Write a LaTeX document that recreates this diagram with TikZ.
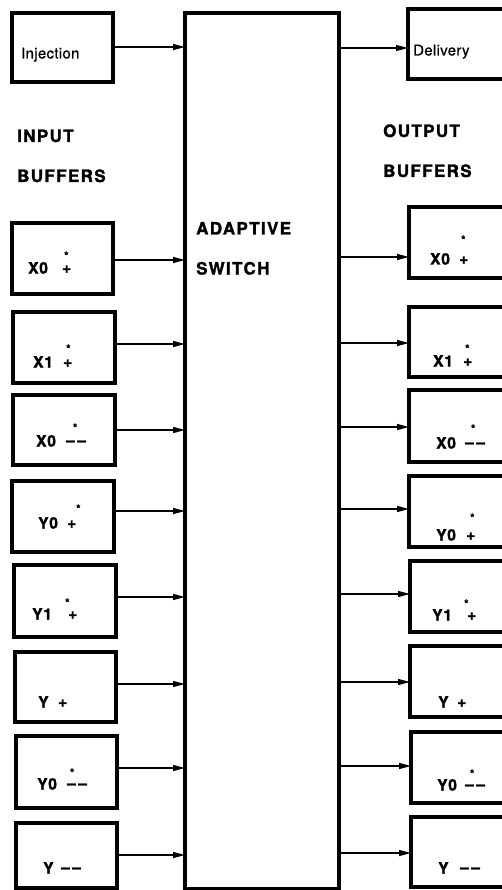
\documentclass[tikz,border=0pt]{standalone}
\usepackage{fontspec}
\setmainfont{TeX Gyre Heros}
\newfontfamily\headf{TeX Gyre Heros}[LetterSpace=8, BoldFeatures={FakeBold=1.6}]
\newfontfamily\labf{TeX Gyre Heros}[LetterSpace=5, BoldFeatures={FakeBold=1.6}]
\newfontfamily\regf{TeX Gyre Heros}[LetterSpace=2, FakeBold=0.6]
\usetikzlibrary{arrows.meta}
\newcommand\starlbl[5]{\makebox[#1][l]{#2}\makebox[0pt][l]{\kern#3\raisebox{#4}{\fontsize{11}{11}\selectfont *}}#5}
\newcommand\plainlbl[3]{\makebox[#1][l]{#2}#3}
\newcommand\pl{\raisebox{0.5pt}{+}}
\newcommand\dd{\raisebox{1pt}{\textendash\kern2.5pt\textendash}}
\begin{document}
\begin{tikzpicture}[x=1pt,y=-1pt,
  box/.style={draw, line width=3.2pt, inner sep=0pt, outer sep=0pt, anchor=north west},
  arr/.style={line width=1.4pt, -{Triangle[length=12pt,width=6pt]}},
  lab/.style={anchor=base west, inner sep=0pt, font={\labf\bfseries\fontsize{15.5}{15.5}\selectfont}},
  head/.style={anchor=base west, inner sep=0pt, font={\headf\bfseries\fontsize{17}{17}\selectfont}},
  reg/.style={anchor=base west, inner sep=0pt, font={\regf\fontsize{15}{15}\selectfont}}]
\path[use as bounding box, clip] (0,0) rectangle (502,890);

% switch
\node[box, minimum width=154pt, minimum height=876pt] (sw) at (185,13) {};

% left boxes
\node[box, minimum width=101pt, minimum height=69pt] (inj) at (12,13) {};
\node[box, minimum width=101pt, minimum height=71pt] (L1) at (12,223) {};
\node[box, minimum width=102pt, minimum height=71pt] (L2) at (13,312) {};
\node[box, minimum width=102pt, minimum height=70pt] (L3) at (13,395) {};
\node[box, minimum width=102pt, minimum height=71pt] (L4) at (12,481) {};
\node[box, minimum width=102pt, minimum height=72pt] (L5) at (14,565) {};
\node[box, minimum width=101pt, minimum height=70pt] (L6) at (15,652) {};
\node[box, minimum width=101pt, minimum height=72pt] (L7) at (16,736) {};
\node[box, minimum width=101pt, minimum height=65pt] (L8) at (16,823) {};

% right boxes (cut by the picture's right edge)
\node[box, minimum width=112pt, minimum height=70pt] (del) at (408,9) {};
\node[box, minimum width=111pt, minimum height=71pt] (R1) at (409,207) {};
\node[box, minimum width=111pt, minimum height=70pt] (R2) at (409,307) {};
\node[box, minimum width=111pt, minimum height=72pt] (R3) at (409,390) {};
\node[box, minimum width=111pt, minimum height=71pt] (R4) at (409,476) {};
\node[box, minimum width=110pt, minimum height=71pt] (R5) at (410,561) {};
\node[box, minimum width=110pt, minimum height=71pt] (R6) at (410,646) {};
\node[box, minimum width=109pt, minimum height=71pt] (R7) at (411,732) {};
\node[box, minimum width=109pt, minimum height=70pt] (R8) at (411,817) {};

% arrows in
\draw[arr] (inj.east |- 0,47) -- (sw.west |- 0,47);
\draw[arr] (L1.east |- 0,260) -- (sw.west |- 0,260);
\draw[arr] (L2.east |- 0,344) -- (sw.west |- 0,344);
\draw[arr] (L3.east |- 0,430) -- (sw.west |- 0,430);
\draw[arr] (L4.east |- 0,511) -- (sw.west |- 0,511);
\draw[arr] (L5.east |- 0,597) -- (sw.west |- 0,597);
\draw[arr] (L6.east |- 0,684) -- (sw.west |- 0,684);
\draw[arr] (L7.east |- 0,768) -- (sw.west |- 0,768);
\draw[arr] (L8.east |- 0,855) -- (sw.west |- 0,855);

% arrows out
\draw[arr] (sw.east |- 0,48) -- (del.west |- 0,48);
\draw[arr] (sw.east |- 0,257) -- (R1.west |- 0,257);
\draw[arr] (sw.east |- 0,343) -- (R2.west |- 0,343);
\draw[arr] (sw.east |- 0,427) -- (R3.west |- 0,427);
\draw[arr] (sw.east |- 0,509) -- (R4.west |- 0,509);
\draw[arr] (sw.east |- 0,594) -- (R5.west |- 0,594);
\draw[arr] (sw.east |- 0,682) -- (R6.west |- 0,682);
\draw[arr] (sw.east |- 0,766) -- (R7.west |- 0,766);
\draw[arr] (sw.east |- 0,853) -- (R8.west |- 0,853);

% headings
\node[head] (tin1) at (17,142) {INPUT};
\node[head] (tin2) at (17,182) {BUFFERS};
\node[head] (tout1) at (383,137) {OUTPUT};
\node[head] (tout2) at (383,177) {BUFFERS};
\node[head] (tsw1) at (196,234.5) {ADAPTIVE};
\node[head] (tsw2) at (196,274.5) {SWITCH};

\node[reg] (tinj) at (21,58.5) {Injection};
\node[reg] (tdel) at (413,55.5) {Delivery};

% left labels
\node[lab] (l1) at (28,273.5) {\starlbl{34pt}{X0}{2pt}{14pt}{\pl}};
\node[lab] (l2) at (33,367.5) {\starlbl{30pt}{X1}{3pt}{15pt}{\pl}};
\node[lab] (l3) at (36,446.5) {\starlbl{30pt}{X0}{6.8pt}{15pt}{\dd}};
\node[lab] (l4) at (38,528.5) {\starlbl{29pt}{Y0}{9pt}{16pt}{\pl}};
\node[lab] (l5) at (32,619.5) {\starlbl{36pt}{Y1}{-3pt}{13pt}{\pl}};
\node[lab] (l6) at (38,707.5) {\plainlbl{20pt}{Y}{\pl}};
\node[lab] (l7) at (37,789.5) {\starlbl{30pt}{Y0}{2.8pt}{13pt}{\dd}};
\node[lab] (l8) at (43,873.5) {\plainlbl{18pt}{Y}{\dd}};

% right labels
\node[lab] (r1) at (430,264.5) {\starlbl{29pt}{X0}{2pt}{21pt}{\pl}};
\node[lab] (r2) at (433,366.5) {\starlbl{30pt}{X1}{2pt}{14pt}{\pl}};
\node[lab] (r3) at (436,448.5) {\starlbl{29pt}{X0}{5.8pt}{16pt}{\dd}};
\node[lab] (r4) at (436,540.5) {\starlbl{30pt}{Y0}{4pt}{19pt}{\pl}};
\node[lab] (r5) at (432,620.5) {\starlbl{35pt}{Y1}{-3pt}{13pt}{\pl}};
\node[lab] (r6) at (438,707.5) {\plainlbl{19pt}{Y}{\pl}};
\node[lab] (r7) at (437,790.5) {\starlbl{28pt}{Y0}{4.8pt}{13pt}{\dd}};
\node[lab] (r8) at (438,873.5) {\plainlbl{22pt}{Y}{\dd}};
\end{tikzpicture}
\end{document}
